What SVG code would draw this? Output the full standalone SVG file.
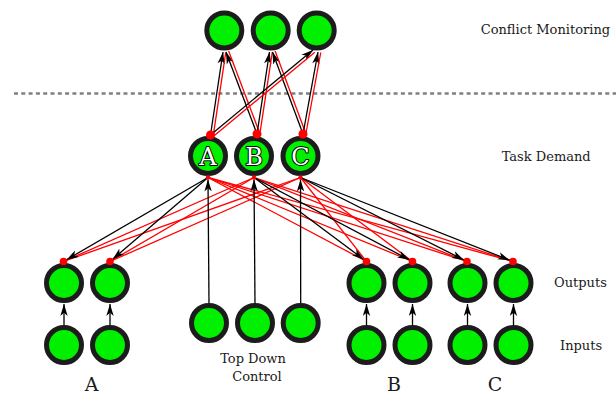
<svg xmlns="http://www.w3.org/2000/svg" width="616" height="394" viewBox="0 0 616 394">
<defs>
<marker id="ah" viewBox="0 0 12 8" markerWidth="12" markerHeight="8" refX="12" refY="4" orient="auto" markerUnits="userSpaceOnUse">
<path d="M0,0.3 L12,4 L0,7.7 L3.2,4 Z" fill="#000"/>
</marker>
</defs>
<style>
.n{fill:#00f000;stroke:#1c1c1c;stroke-width:5}
.bk{stroke:#000;stroke-width:1.3;fill:none;marker-end:url(#ah)}
.rd{stroke:#f00;stroke-width:1.3;fill:none}
.dot{fill:#f00}
.lbl{font-family:"DejaVu Serif","Liberation Serif",serif;font-size:13px;fill:#1a1a1a}
.big{font-family:"DejaVu Serif","Liberation Serif",serif;font-size:19px;fill:#1a1a1a;text-anchor:middle}
.let{font-family:"DejaVu Serif","Liberation Serif",serif;font-size:24px;fill:#fff;stroke:#000;stroke-width:2;paint-order:stroke;stroke-linejoin:round;text-anchor:middle}
</style>
<rect width="616" height="394" fill="#fff"/>
<line x1="14" y1="93.5" x2="616" y2="93.5" stroke="#808080" stroke-width="2.6" stroke-dasharray="4,3.3"/>

<g id="cm1"><circle class="n" cx="224.3" cy="30.5" r="17.5"/></g>
<g id="cm2"><circle class="n" cx="270.7" cy="30.5" r="17.5"/></g>
<g id="cm3"><circle class="n" cx="316.7" cy="30.5" r="17.5"/></g>

<g id="taskA"><circle class="n" cx="208" cy="156" r="17.5"/><text class="let" x="208" y="164.5">A</text></g>
<g id="taskB"><circle class="n" cx="254" cy="156" r="17.5"/><text class="let" x="254" y="164.5">B</text></g>
<g id="taskC"><circle class="n" cx="300.5" cy="156" r="17.5"/><text class="let" x="300.5" y="164.5">C</text></g>

<g id="outA1"><circle class="n" cx="64" cy="283" r="17.5"/></g>
<g id="outA2"><circle class="n" cx="110" cy="283" r="17.5"/></g>
<g id="outB1"><circle class="n" cx="366.5" cy="283" r="17.5"/></g>
<g id="outB2"><circle class="n" cx="412.5" cy="283" r="17.5"/></g>
<g id="outC1"><circle class="n" cx="467.5" cy="283" r="17.5"/></g>
<g id="outC2"><circle class="n" cx="513.5" cy="283" r="17.5"/></g>

<g id="inA1"><circle class="n" cx="64" cy="345" r="17.5"/></g>
<g id="inA2"><circle class="n" cx="110" cy="345" r="17.5"/></g>
<g id="inB1"><circle class="n" cx="366.5" cy="345" r="17.5"/></g>
<g id="inB2"><circle class="n" cx="412.5" cy="345" r="17.5"/></g>
<g id="inC1"><circle class="n" cx="467.5" cy="345" r="17.5"/></g>
<g id="inC2"><circle class="n" cx="513.5" cy="345" r="17.5"/></g>

<g id="tdc1"><circle class="n" cx="209" cy="323" r="17.5"/></g>
<g id="tdc2"><circle class="n" cx="255" cy="323" r="17.5"/></g>
<g id="tdc3"><circle class="n" cx="300.7" cy="323" r="17.5"/></g>

<g id="connectors">
<line class="bk" x1="210.5" y1="135" x2="223" y2="52"/>
<line class="rd" x1="213.27" y1="135.42" x2="225.77" y2="52.42"/>
<line class="bk" x1="257" y1="134" x2="226" y2="52"/>
<line class="rd" x1="259.62" y1="133.01" x2="228.62" y2="51.01"/>
<line class="bk" x1="257" y1="134" x2="269.5" y2="52"/>
<line class="rd" x1="259.77" y1="134.42" x2="272.27" y2="52.42"/>
<line class="bk" x1="303" y1="134" x2="272.5" y2="52"/>
<line class="rd" x1="305.62" y1="133.02" x2="275.12" y2="51.02"/>
<line class="bk" x1="210.5" y1="135" x2="313" y2="50"/>
<line class="rd" x1="212.29" y1="137.16" x2="314.79" y2="52.16"/>
<line class="bk" x1="303" y1="134" x2="318" y2="52"/>
<line class="rd" x1="305.75" y1="134.5" x2="320.75" y2="52.5"/>
<line class="rd" x1="63.5" y1="261.5" x2="254" y2="177.5"/>
<line class="rd" x1="63.5" y1="261.5" x2="300.5" y2="177.5"/>
<line class="rd" x1="110" y1="261.5" x2="254" y2="177.5"/>
<line class="rd" x1="110" y1="261.5" x2="300.5" y2="177.5"/>
<line class="rd" x1="366.5" y1="261.5" x2="208" y2="177.5"/>
<line class="rd" x1="366.5" y1="261.5" x2="300.5" y2="177.5"/>
<line class="rd" x1="412.5" y1="261.5" x2="208" y2="177.5"/>
<line class="rd" x1="412.5" y1="261.5" x2="300.5" y2="177.5"/>
<line class="rd" x1="467" y1="261.5" x2="208" y2="177.5"/>
<line class="rd" x1="467" y1="261.5" x2="254" y2="177.5"/>
<line class="rd" x1="513" y1="261.5" x2="208" y2="177.5"/>
<line class="rd" x1="513" y1="261.5" x2="254" y2="177.5"/>
<line class="bk" x1="208" y1="177.5" x2="66.53" y2="259.74"/>
<line class="bk" x1="208" y1="177.5" x2="112.66" y2="259.22"/>
<line class="bk" x1="254" y1="177.5" x2="363.7" y2="259.4"/>
<line class="bk" x1="254" y1="177.5" x2="409.4" y2="259.86"/>
<line class="bk" x1="300.5" y1="177.5" x2="463.88" y2="259.92"/>
<line class="bk" x1="300.5" y1="177.5" x2="509.74" y2="260.21"/>
<line class="bk" x1="209" y1="303" x2="208" y2="179.5"/>
<line class="bk" x1="255" y1="303" x2="254" y2="179.5"/>
<line class="bk" x1="300.7" y1="303" x2="300.5" y2="179.5"/>
<line class="bk" x1="64" y1="325" x2="64" y2="304"/>
<line class="bk" x1="110" y1="325" x2="110" y2="304"/>
<line class="bk" x1="366.5" y1="325" x2="366.5" y2="304"/>
<line class="bk" x1="412.5" y1="325" x2="412.5" y2="304"/>
<line class="bk" x1="467.5" y1="325" x2="467.5" y2="304"/>
<line class="bk" x1="513.5" y1="325" x2="513.5" y2="304"/>
<circle class="dot" cx="210.5" cy="135" r="4.5"/>
<circle class="dot" cx="257" cy="134" r="4.5"/>
<circle class="dot" cx="303" cy="134" r="4.5"/>
<circle class="dot" cx="208" cy="177.5" r="2.2"/>
<circle class="dot" cx="254" cy="177.5" r="2.2"/>
<circle class="dot" cx="300.5" cy="177.5" r="2.2"/>
<circle class="dot" cx="63.5" cy="261.5" r="3.8"/>
<circle class="dot" cx="110" cy="261.5" r="3.8"/>
<circle class="dot" cx="366.5" cy="261.5" r="3.8"/>
<circle class="dot" cx="412.5" cy="261.5" r="3.8"/>
<circle class="dot" cx="467" cy="261.5" r="3.8"/>
<circle class="dot" cx="513" cy="261.5" r="3.8"/>
</g>

<text class="lbl" x="480.7" y="34">Conflict Monitoring</text>
<text class="lbl" x="501.7" y="161">Task Demand</text>
<text class="lbl" x="554" y="287">Outputs</text>
<text class="lbl" x="560" y="350">Inputs</text>
<text class="lbl" x="253" y="362.5" text-anchor="middle">Top Down</text>
<text class="lbl" x="257" y="380.5" text-anchor="middle">Control</text>
<text class="big" x="91.5" y="391">A</text>
<text class="big" x="394" y="391">B</text>
<text class="big" x="495" y="391">C</text>
</svg>
